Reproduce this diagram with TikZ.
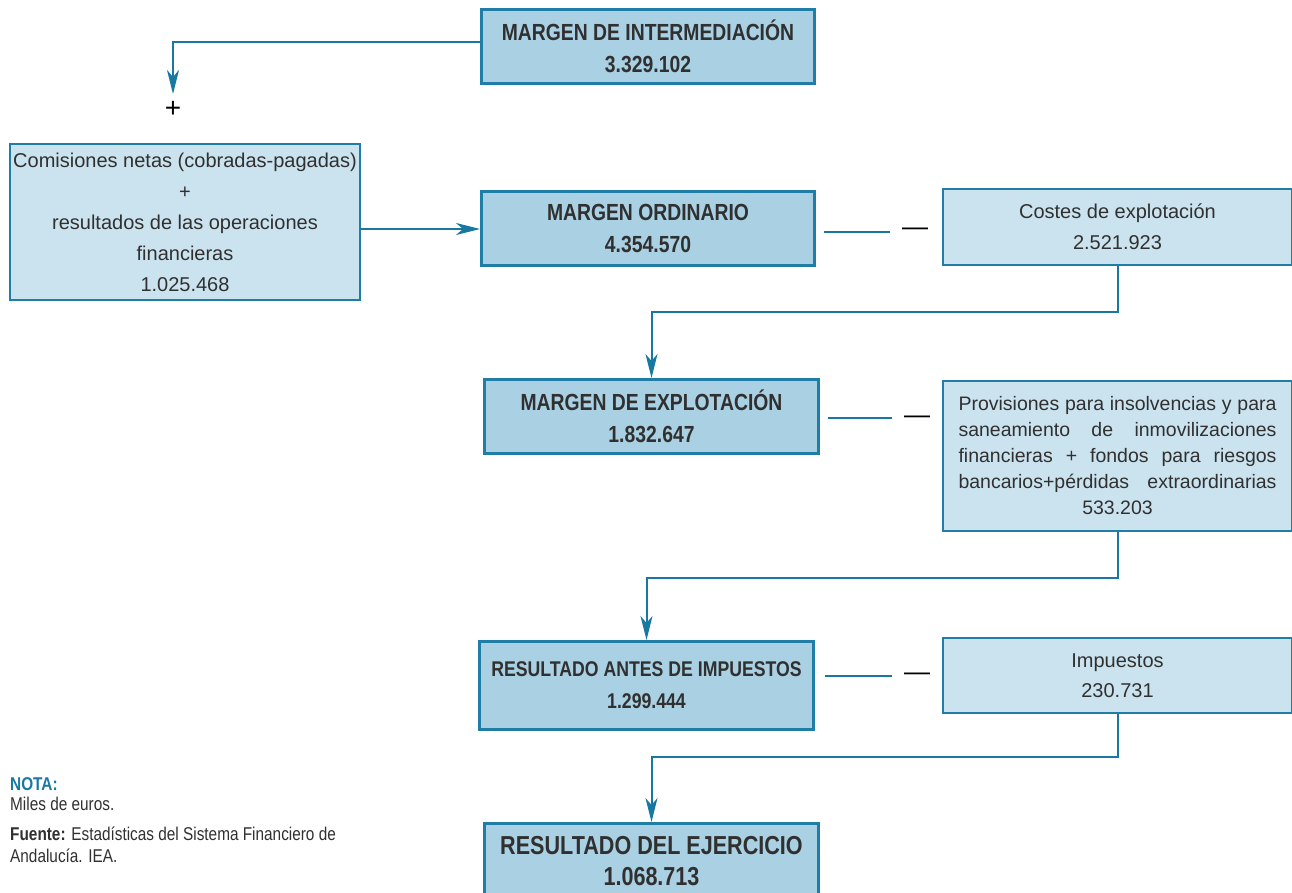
\documentclass[tikz,border=0pt]{standalone}
\usepackage{fontspec}
\setmainfont{Liberation Sans}
\newfontfamily\condensada{Liberation Sans}[FakeStretch=0.83]
\usepackage{tikz}
\usetikzlibrary{arrows.meta, calc}
\usetikzlibrary{positioning}
\definecolor{fondoosc}{HTML}{A9D0E3}
\definecolor{fondoclaro}{HTML}{CBE3EF}
\definecolor{borde}{HTML}{1F7DA6}
\definecolor{flecha}{HTML}{1878A2}
\definecolor{texto}{HTML}{303030}
\tikzset{
  margen/.style={draw=borde, fill=fondoosc, line width=3pt, anchor=north west, inner sep=0pt,
    align=center, text=texto, font=\condensada\bfseries\fontsize{23.3}{32}\selectfont},
  partida/.style={draw=borde, fill=fondoclaro, line width=2pt, anchor=north west, inner sep=0pt,
    align=center, text=texto, font=\fontsize{20}{31}\selectfont},
  enlace/.style={draw=flecha, line width=2pt},
  punta/.style={-{Stealth[length=24pt,width=12pt,inset=7pt]}},
  signo/.style={inner xsep=12pt, inner ysep=0pt, font=\fontsize{26}{26}\selectfont, text=black},
  nota/.style={anchor=base west, inner sep=0pt, align=left, text=texto, font=\condensada\fontsize{18.5}{22}\selectfont},
}
\begin{document}
\begin{tikzpicture}[x=1pt,y=-1pt]
        \useasboundingbox (0,0) rectangle (1292,892);
        \node[margen, minimum width=333pt, minimum height=74pt] (mInter) at (480,8) {MARGEN DE INTERMEDIACIÓN\\3.329.102}; %margen de intermediación
        \coordinate (cima) at (173,94);
        \node[font=\fontsize{28}{28}\selectfont, text=black] (mas) at (173,109) {+};
        \node[partida, minimum width=350pt, minimum height=156pt] (comis) at (9,143) {Comisiones netas (cobradas-pagadas)\\+\\resultados de las operaciones\\financieras\\1.025.468};
        \node[margen, minimum width=333pt, minimum height=74pt] (mOrd) at (480,190) {MARGEN ORDINARIO\\4.354.570}; %margen ordinario
        \node[signo] (menos1) at (915,232) {---};
        \node[partida, minimum width=349pt, minimum height=76pt] (costes) at (942,188) {Costes de explotación\\2.521.923};
        \node[margen, minimum width=334pt, minimum height=74pt] (mExpl) at (483,378) {MARGEN DE EXPLOTACIÓN\\1.832.647}; %margen de explotación
        \node[signo] (menos2) at (917,420) {---};
        \node[partida, minimum width=349pt, minimum height=150pt, align=justify, text width=318pt,
          font=\fontsize{19.5}{26}\selectfont] (provis) at (942,380)
          {Provisiones para insolvencias y para\linebreak saneamiento de inmovilizaciones\linebreak financieras + fondos para riesgos\linebreak bancarios+pérdidas extraordinarias\linebreak\null\hfill 533.203\hfill\null};
        \node[margen, minimum width=334pt, minimum height=88pt, font=\condensada\bfseries\fontsize{21.3}{32}\selectfont] (rAntes) at (478,640) {RESULTADO ANTES DE IMPUESTOS\\1.299.444}; %resultado antes de impuestos
        \node[signo] (menos3) at (917,677) {---};
        \node[partida, minimum width=349pt, minimum height=75pt, font=\fontsize{20}{30}\selectfont] (impuestos) at (942,637) {Impuestos\\230.731};
        \node[margen, minimum width=334pt, minimum height=76pt, font=\condensada\bfseries\fontsize{26}{31}\selectfont] (rEjer) at (483,822) {RESULTADO DEL EJERCICIO\\1.068.713}; %resultado del ejercicio
        \node[nota, font=\condensada\bfseries\fontsize{18.5}{22}\selectfont, text=flecha] (notaTit) at (10,790) {NOTA:};
        \node[nota] (notaTxt) at (10,810) {Miles de euros.};
        \node[nota] (fuente) at (10,862) {\textbf{Fuente:} Estadísticas del Sistema Financiero de\\Andalucía. IEA.};
        \draw[enlace,punta] (mInter.west |- 0,42) -| (cima);
        \draw[enlace,punta] (comis.east |- 0,229) -- (mOrd.west |- 0,229);
        \draw[enlace] ([xshift=8pt]mOrd.east |- menos1) -- (menos1.west);
        \draw[enlace] ([xshift=8pt]mExpl.east |- 0,418) -- (menos2.west |- 0,418);
        \draw[enlace] ([xshift=10pt]rAntes.east |- 0,676) -- (menos3.west |- 0,676);
        \draw[enlace,punta] (costes.south) -- ++(0,46) -| (mExpl.north);
        \draw[enlace,punta] (provis.south) -- ++(0,46) -| (rAntes.north);
        \draw[enlace,punta] (impuestos.south) -- ++(0,43) -| (rEjer.north);
\end{tikzpicture}
\end{document}
